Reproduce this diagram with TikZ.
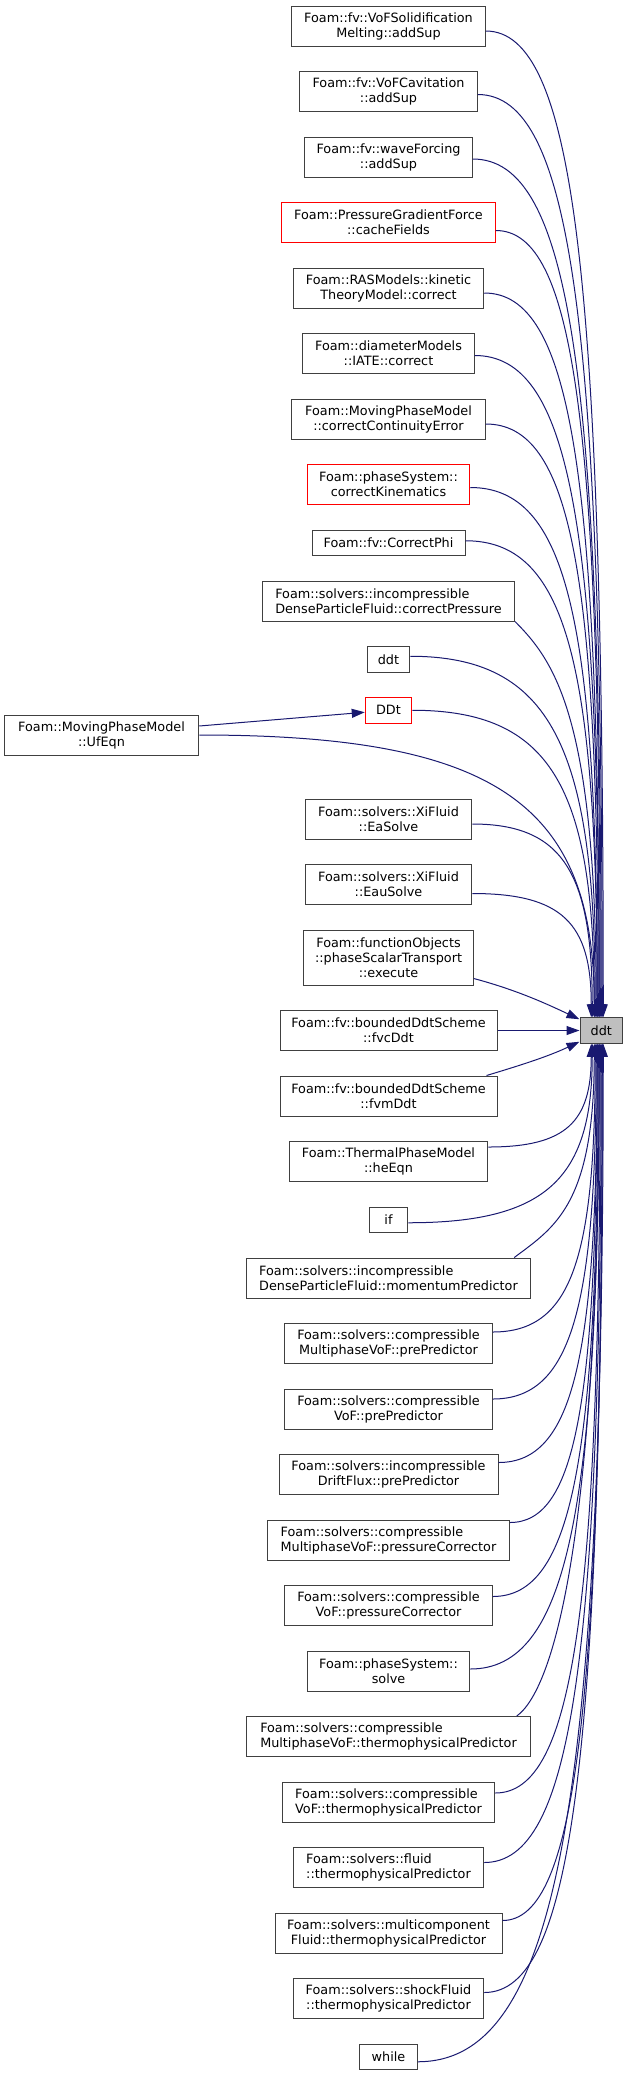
\documentclass[tikz,border=0pt]{standalone}
\usepackage{fontspec}
\setmainfont{DejaVu Sans}
\usetikzlibrary{positioning, arrows.meta}

\definecolor{edgeblue}{HTML}{191970}
\definecolor{boxgray}{HTML}{404040}
\definecolor{rootgray}{HTML}{BFBFBF}

\begin{document}
\begin{tikzpicture}[
    x=1pt, y=-1pt,
    node distance=24.5pt,
    every node/.style={font=\fontsize{12.8}{15}\selectfont},
    fn/.style={draw=boxgray, line width=1pt, fill=white, inner xsep=4pt,
      inner ysep=2pt, minimum height=40pt, align=center},
    fn1/.style={fn, minimum height=25.5pt},
    fn3/.style={fn, minimum height=55pt},
    trunc/.style={draw=red},
    root/.style={fn1, fill=rootgray},
    call/.style={draw=edgeblue, line width=1pt, -{Triangle[length=13pt,width=9pt]}}
  ]
  \useasboundingbox (0,0) rectangle (628,2075);

  % callers above ddt
  \node[fn, minimum width=193.5pt] (vofsol) at (388.5,26) {Foam::fv::VoFSolidification\\Melting::addSup};
  \node[fn, minimum width=177.5pt, below=of vofsol] (vofcav) {Foam::fv::VoFCavitation\\::addSup};
  \node[fn, minimum width=167.5pt, below=of vofcav] (wave) {Foam::fv::waveForcing\\::addSup};
  \node[fn, trunc, minimum width=213.5pt, below=of wave] (pgf) {Foam::PressureGradientForce\\::cacheFields};
  \node[fn, minimum width=190.5pt, below=of pgf] (ras) {Foam::RASModels::kinetic\\TheoryModel::correct};
  \node[fn, minimum width=171.5pt, below=of ras] (diam) {Foam::diameterModels\\::IATE::correct};
  \node[fn, minimum width=193.5pt, below=of diam] (cce) {Foam::MovingPhaseModel\\::correctContinuityError};
  \node[fn, trunc, minimum width=162.5pt, below=of cce] (ck) {Foam::phaseSystem::\\correctKinematics};
  \node[fn1, minimum width=153pt, below=of ck] (cphi) {Foam::fv::CorrectPhi};
  \node[fn, align=left, minimum width=252pt, below=of cphi] (cpress) {Foam::solvers::incompressible\\DenseParticleFluid::correctPressure};
  \node[fn1, minimum width=42.5pt, below=of cpress] (ddtcall) {ddt};
  \node[fn1, trunc, minimum width=46.5pt, below=of ddtcall] (DDt) {DDt};
  \node[fn, minimum width=194.5pt] (ufeqn) at (101.5,735) {Foam::MovingPhaseModel\\::UfEqn};
  \node[fn, minimum width=166.5pt, below=75pt of DDt] (easolve) {Foam::solvers::XiFluid\\::EaSolve};
  \node[fn, minimum width=166.5pt, below=of easolve] (eausolve) {Foam::solvers::XiFluid\\::EauSolve};
  \node[fn3, minimum width=169.5pt, below=of eausolve] (funcobj) {Foam::functionObjects\\::phaseScalarTransport\\::execute};
  \node[fn, minimum width=217pt, below=of funcobj] (fvcddt) {Foam::fv::boundedDdtScheme\\::fvcDdt};

  % the called function
  \node[root, minimum width=42.5pt, right=82pt of fvcddt] (ddt) {ddt};

  % callers below ddt
  \node[fn, minimum width=217pt, below=of fvcddt] (fvmddt) {Foam::fv::boundedDdtScheme\\::fvmDdt};
  \node[fn, minimum width=198.5pt, below=of fvmddt] (heeqn) {Foam::ThermalPhaseModel\\::heEqn};
  \node[fn1, minimum width=38.5pt, below=of heeqn] (ifcall) {if};
  \node[fn, align=left, minimum width=284.5pt, below=of ifcall] (momentum) {Foam::solvers::incompressible\\DenseParticleFluid::momentumPredictor};
  \node[fn, minimum width=207.5pt, below=of momentum] (mpvpre) {Foam::solvers::compressible\\MultiphaseVoF::prePredictor};
  \node[fn, minimum width=207.5pt, below=of mpvpre] (vofpre) {Foam::solvers::compressible\\VoF::prePredictor};
  \node[fn, minimum width=219pt, below=of vofpre] (driftpre) {Foam::solvers::incompressible\\DriftFlux::prePredictor};
  \node[fn, align=left, minimum width=242pt, below=of driftpre] (mpvpcorr) {Foam::solvers::compressible\\MultiphaseVoF::pressureCorrector};
  \node[fn, minimum width=207.5pt, below=of mpvpcorr] (vofpcorr) {Foam::solvers::compressible\\VoF::pressureCorrector};
  \node[fn, minimum width=162.5pt, below=of vofpcorr] (solve) {Foam::phaseSystem::\\solve};
  \node[fn, align=left, minimum width=283.5pt, below=of solve] (mpvthermo) {Foam::solvers::compressible\\MultiphaseVoF::thermophysicalPredictor};
  \node[fn, align=left, minimum width=212.5pt, below=of mpvthermo] (vofthermo) {Foam::solvers::compressible\\VoF::thermophysicalPredictor};
  \node[fn, align=left, minimum width=190.5pt, below=of vofthermo] (fluidthermo) {Foam::solvers::fluid\\::thermophysicalPredictor};
  \node[fn, minimum width=227pt, below=of fluidthermo] (multithermo) {Foam::solvers::multicomponent\\Fluid::thermophysicalPredictor};
  \node[fn, minimum width=190.5pt, below=of multithermo] (shockthermo) {Foam::solvers::shockFluid\\::thermophysicalPredictor};
  \node[fn1, minimum width=57.5pt, below=of shockthermo] (whilecall) {while};

  % UfEqn also goes through DDt
  \draw[call] ([yshift=9pt]ufeqn.east) -- ([yshift=-2pt]DDt.west);

  % edges coming down onto ddt
  \draw[call] ([yshift=-5pt]vofsol.east) .. controls +(89,0) and +(0,-740) .. ([xshift=2pt]ddt.north);
  \draw[call] ([yshift=-3pt]vofcav.east) .. controls +(94,0) and +(0,-693) .. ([xshift=1pt]ddt.north);
  \draw[call] ([yshift=-2pt]wave.east) .. controls +(97,0) and +(0,-645) .. (ddt.north);
  \draw[call] ([yshift=-8pt]pgf.east) .. controls +(79,0) and +(0,-591) .. ([xshift=-1pt]ddt.north);
  \draw[call] ([yshift=-5pt]ras.east) .. controls +(87,0) and +(0,-545) .. ([xshift=-2pt]ddt.north);
  \draw[call] ([yshift=-2pt]diam.east) .. controls +(94,0) and +(0,-497) .. ([xshift=-2pt]ddt.north);
  \draw[call] ([yshift=-5pt]cce.east) .. controls +(85,0) and +(0,-446) .. ([xshift=-3pt]ddt.north);
  \draw[call] ([yshift=-3pt]ck.east) .. controls +(96,0) and +(0,-399) .. ([xshift=-4pt]ddt.north);
  \draw[call] ([yshift=2pt]cphi.east) .. controls +(99,0) and +(0,-359) .. ([xshift=-4pt]ddt.north);
  \draw[call] (cpress.south east) .. controls +(40,40) and +(0,-298) .. ([xshift=-5pt]ddt.north);
  \draw[call] ([yshift=3pt]ddtcall.east) .. controls +(140,0) and +(0,-271) .. ([xshift=-6pt]ddt.north);
  \draw[call] (DDt.east) .. controls +(138,0) and +(0,-231) .. ([xshift=-7pt]ddt.north);
  \draw[call] (ufeqn.east) .. controls +(299,0) and +(0,-212) .. ([xshift=-7pt]ddt.north);
  \draw[call] ([yshift=-5pt]easolve.east) .. controls +(90,0) and +(0,-145) .. ([xshift=-9pt]ddt.north);
  \draw[call] ([yshift=-9pt]eausolve.east) .. controls +(90,0) and +(0,-94) .. ([xshift=-10pt]ddt.north);

  % edges from the side
  \draw[call] ([yshift=-21pt]funcobj.east) .. controls +(45,12) and +(-30,-14) .. ([yshift=-2pt]ddt.north west);
  \draw[call] (fvcddt.east) -- (ddt.west);
  \draw[call] ([xshift=-11pt]fvmddt.north east) .. controls +(40,-12) and +(-30,14) .. ([yshift=2pt]ddt.south west);

  % edges coming up onto ddt
  \draw[call] ([yshift=-6pt]heeqn.north east) .. controls +(78,0) and +(0,78) .. ([xshift=-10pt]ddt.south);
  \draw[call] ([yshift=-3pt]ifcall.east) .. controls +(139,0) and +(0,134) .. ([xshift=-9pt]ddt.south);
  \draw[call] ([xshift=-17pt]momentum.north east) .. controls +(40,-30) and +(0,161) .. ([xshift=-7pt]ddt.south);
  \draw[call] ([yshift=11.5pt]mpvpre.east) .. controls +(78,0) and +(0,217) .. ([xshift=-6pt]ddt.south);
  \draw[call] ([yshift=10pt]vofpre.east) .. controls +(78,0) and +(0,267) .. ([xshift=-5pt]ddt.south);
  \draw[call] ([yshift=12pt]driftpre.east) .. controls +(75,0) and +(0,314) .. ([xshift=-4pt]ddt.south);
  \draw[call] ([yshift=17.5pt]mpvpcorr.east) .. controls +(66,0) and +(0,359) .. ([xshift=-4pt]ddt.south);
  \draw[call] ([yshift=9pt]vofpcorr.east) .. controls +(80,0) and +(0,415) .. ([xshift=-3pt]ddt.south);
  \draw[call] ([yshift=2pt]solve.east) .. controls +(97,0) and +(0,469) .. ([xshift=-2pt]ddt.south);
  \draw[call] ([xshift=-14pt]mpvthermo.north east) .. controls +(35,-25) and +(0,504) .. ([xshift=-2pt]ddt.south);
  \draw[call] ([yshift=9pt]vofthermo.east) .. controls +(79,0) and +(0,562) .. ([xshift=-1pt]ddt.south);
  \draw[call] ([yshift=5pt]fluidthermo.east) .. controls +(88,0) and +(0,614) .. (ddt.south);
  \draw[call] ([yshift=12.5pt]multithermo.east) .. controls +(75,0) and +(0,657) .. ([xshift=1pt]ddt.south);
  \draw[call] ([yshift=6pt]shockthermo.east) .. controls +(89,0) and +(0,711) .. ([xshift=1pt]ddt.south);
  \draw[call] ([yshift=-5pt]whilecall.east) .. controls +(140,0) and +(0,763) .. ([xshift=2pt]ddt.south);

\end{tikzpicture}
\end{document}
